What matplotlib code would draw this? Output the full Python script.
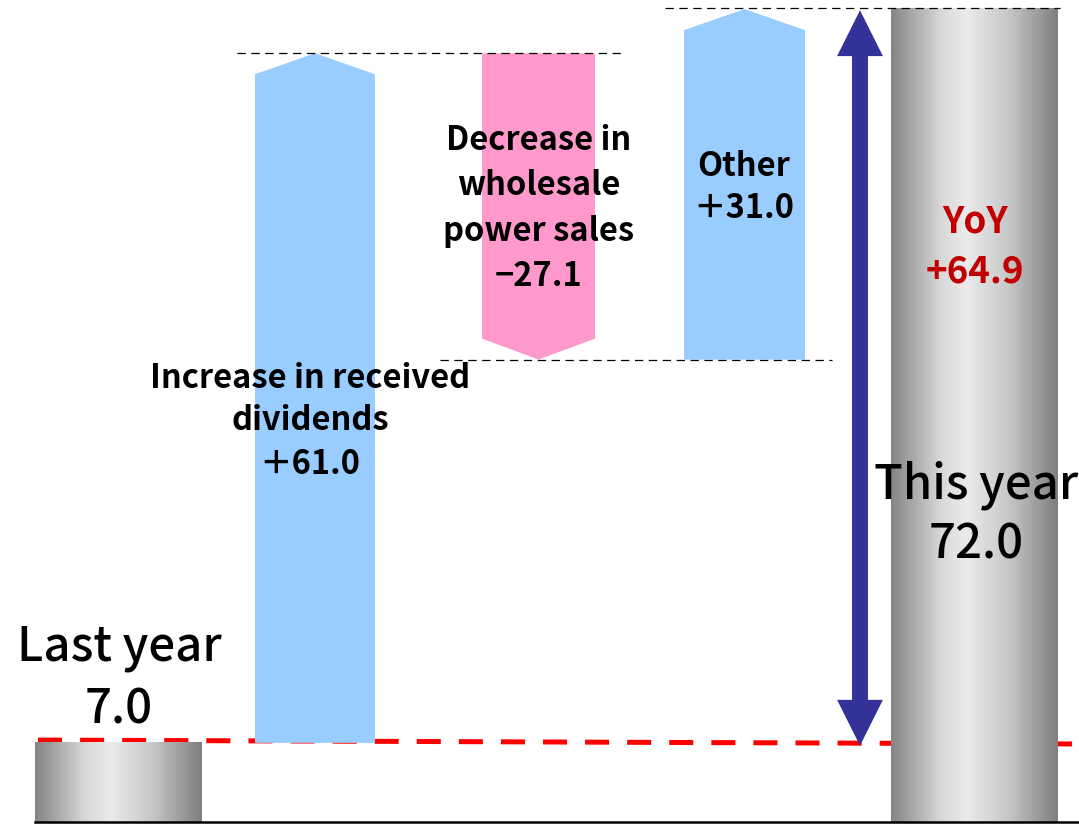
import matplotlib
matplotlib.use("Agg")
import matplotlib.pyplot as plt
import numpy as np
from matplotlib.patches import Polygon, FancyArrowPatch
from matplotlib.colors import LinearSegmentedColormap

plt.rcParams['font.family'] = ['Noto Sans CJK JP', 'DejaVu Sans']
plt.rcParams['lines.scale_dashes'] = False

# ---- data ----
last_year = 7.0
this_year = 72.0
yoy = 64.9
step_names = ["Increase in received dividends", "Decrease in wholesale power sales", "Other"]
step_values = [61.0, -27.1, 31.0]
step_labels = [["Increase in received", "dividends", "＋61.0"],
               ["Decrease in", "wholesale", "power sales", "−27.1"],
               ["Other", "＋31.0"]]
yoy_label = ["YoY", "+64.9"]
last_label = ["Last year", "7.0"]
this_label = ["This year", "72.0"]

# ---- layout (pixels) ----
W, H = 1079, 825
BASE_ROW, TOP_ROW = 822, 8
ypp = 72.0 / (BASE_ROW - TOP_ROW)  # value units per pixel

fig = plt.figure(figsize=(W / 100, H / 100), dpi=100)
ax = fig.add_axes([0, 0, 1, 1])
ax.set_xlim(0, W)
ylim = (-(H - BASE_ROW) * ypp, 72.0 + TOP_ROW * ypp)
ax.axis('off')

step_x = [(255, 375), (482, 595), (684, 805)]
last_x = (35, 202)
this_x = (891, 1058)
arrow_x = 860
head = 21 * ypp

blue = '#99CCFF'
pink = '#FF99CC'

# gradient cylinders
cmap = LinearSegmentedColormap.from_list(
    'cyl', [(0.0, '#858585'), (0.3, '#d8d8d8'), (0.45, '#ebebeb'),
            (0.7, '#c8c8c8'), (1.0, '#7f7f7f')])
grad = np.linspace(0, 1, 256).reshape(1, -1)
for (xl, xr), v in [(last_x, last_year), (this_x, this_year)]:
    ax.imshow(grad, extent=[xl, xr, 0, v], cmap=cmap, aspect='auto',
              interpolation='bicubic', zorder=3)

# waterfall arrows
running = last_year
tops = []
for (xl, xr), d in zip(step_x, step_values):
    y0 = running
    y1 = running + d
    xc = (xl + xr) / 2
    if d >= 0:
        pts = [(xl, y0), (xr, y0), (xr, y1 - head), (xc, y1), (xl, y1 - head)]
    else:
        pts = [(xl, y0), (xr, y0), (xr, y1 + head), (xc, y1), (xl, y1 + head)]
    ax.add_patch(Polygon(pts, closed=True, facecolor=blue if d >= 0 else pink,
                         edgecolor='none', zorder=3))
    running = y1
    tops.append(y1)

# thin black dashed connectors
conn = [((237, 625), tops[0]), ((440, 832), tops[1]), ((665, 1060), this_year)]
for (x0, x1), y in conn:
    ax.plot([x0, x1], [y, y], color='black', lw=0.9, dashes=(6, 4), zorder=4)

# red dashed reference line at last year's value
ax.plot([38, W], [last_year + 0.25, last_year - 0.1], color='#FF0000', lw=3.6,
        dashes=(17.3, 13), zorder=2)

# baseline
ax.plot([35, W], [0, 0], color='black', lw=1.8, zorder=5)

# double-headed arrow (shaft + two heads)
mid = (last_year + this_year) / 2
for ystart, yend in ((mid - 1.0, this_year - 0.2), (mid + 1.0, last_year - 0.25)):
    ax.add_patch(FancyArrowPatch((arrow_x, ystart), (arrow_x, yend),
                                 arrowstyle='simple,head_length=33,head_width=33,tail_width=11.5',
                                 mutation_scale=1, shrinkA=0, shrinkB=0,
                                 color='#333399', lw=0, zorder=4))

ax.set_ylim(*ylim)


def put(lines, xc, rows, size, color='black', weight='normal'):
    for t, r in zip(lines, rows):
        ax.text(xc, ylim[1] - r * ypp, t, ha='center', va='center',
                fontsize=size, color=color, fontweight=weight, zorder=6)


put(last_label, 119, [648, 710], 34, weight='medium')
put(this_label, 976, [485, 545], 34, weight='medium')
put(step_labels[0], 310, [378, 421, 465], 23.5, weight='bold')
put(step_labels[1], 539, [141, 186, 231, 276], 23.5, weight='bold')
put(step_labels[2], 744, [166, 209], 23.5, weight='bold')
put(yoy_label, 975, [222, 272], 26.5, color='#C00000', weight='bold')

fig.savefig('out.png', dpi=100)
